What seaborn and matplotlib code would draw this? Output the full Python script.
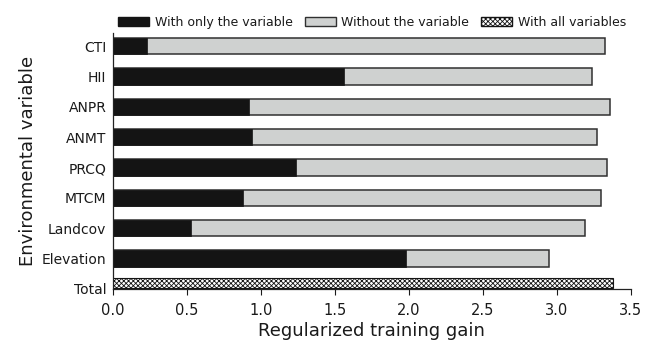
import matplotlib
matplotlib.use("Agg")
import matplotlib.pyplot as plt
from matplotlib.patches import Patch
import seaborn as sns
import pandas as pd

variables = ["CTI", "HII", "ANPR", "ANMT", "PRCQ", "MTCM", "Landcov", "Elevation"]
with_only = [0.23, 1.56, 0.92, 0.94, 1.24, 0.88, 0.53, 1.98]
without = [3.33, 3.24, 3.36, 3.27, 3.34, 3.30, 3.19, 2.95]
total_label = "Total"
total_value = 3.38
order = variables + [total_label]
xticks = [0, 0.5, 1.0, 1.5, 2.0, 2.5, 3.0, 3.5]
xtick_labels = ["0.0", "0.5", "1.0", "1.5", "2.0", "2.5", "3.0", "3.5"]

sns.set_theme(style="ticks")
plt.rcParams["font.family"] = ["DejaVu Sans"]
plt.rcParams["hatch.linewidth"] = 0.6
plt.rcParams["hatch.color"] = "#151515"

BLACK = "#141414"
GRAY = "#cfd1d0"
EDGE = "#303030"
TXT = "#1a1a1a"

fig = plt.figure(figsize=(6.54, 3.44), dpi=100)
ax = fig.add_axes([0.1723, 0.1599, 0.7920, 0.7451])

df = pd.DataFrame({"var": variables, "with_only": with_only, "without": without})
df_tot = pd.DataFrame({"var": [total_label], "val": [total_value]})

sns.barplot(data=df, x="without", y="var", order=order, color=GRAY,
            saturation=1, width=0.54, edgecolor=EDGE, linewidth=1.1, ax=ax)
sns.barplot(data=df, x="with_only", y="var", order=order, color=BLACK,
            saturation=1, width=0.54, edgecolor=BLACK, linewidth=0.5, ax=ax)
n_before = len(ax.patches)
sns.barplot(data=df_tot, x="val", y="var", order=order, color="white",
            saturation=1, width=0.34, edgecolor=BLACK, linewidth=0.8,
            hatch="xxxxxxx", ax=ax)
# the hatched total bar sits on the x axis in the reference
for p in ax.patches[n_before:]:
    p.set_y(p.get_y() - 0.2)

ax.set_xlim(0, 3.5)
ax.set_ylim(8.0, -0.44)
ax.set_xticks(xticks)
ax.set_xticklabels(xtick_labels)
ax.tick_params(axis="x", labelsize=10.5, colors=TXT, length=4.3, width=0.8, pad=5.5)
ax.tick_params(axis="y", labelsize=10, colors=TXT, length=0, pad=4.5)
for s in ["top", "right"]:
    ax.spines[s].set_visible(False)
for s in ["left", "bottom"]:
    ax.spines[s].set_color("#222222")
    ax.spines[s].set_linewidth(0.9)

ax.set_xlabel("Regularized training gain", fontsize=13, color=TXT, labelpad=3)
ax.set_ylabel("Environmental variable", fontsize=13, color=TXT)
ax.yaxis.set_label_coords(-0.146, 0.5)

handles = [
    Patch(facecolor=BLACK, edgecolor=BLACK, label="With only the variable"),
    Patch(facecolor=GRAY, edgecolor=EDGE, label="Without the variable"),
    Patch(facecolor="white", edgecolor=BLACK, hatch="xxxxxxx", label="With all variables"),
]
leg = fig.legend(handles=handles, loc="center left", bbox_to_anchor=(0.181, 0.936),
                 ncol=3, frameon=False, fontsize=9, handlelength=2.48,
                 handleheight=0.75, columnspacing=0.93, handletextpad=0.46,
                 borderaxespad=0, borderpad=0)
for t in leg.get_texts():
    t.set_color(TXT)

fig.savefig("out.png", dpi=100)
